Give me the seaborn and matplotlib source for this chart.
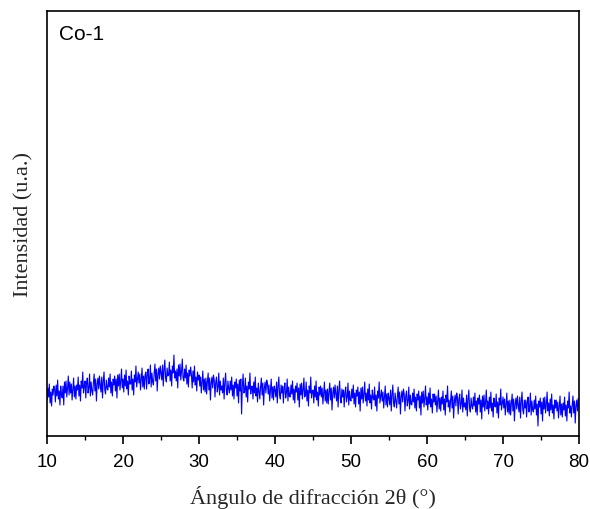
import numpy as np
import matplotlib
matplotlib.use("Agg")
import matplotlib.pyplot as plt
from matplotlib.ticker import MultipleLocator
import seaborn as sns

# scan grid, 2theta in degrees (0.1 deg step)
two_theta = np.round(np.arange(10.0, 80.0001, 0.1), 1)

# intensity (a.u.), one row per degree (10 -> 79)
intensity = [
    36, 48, 39, 52, 33, 44, 30, 47, 41, 50,
    47, 34, 51, 40, 56, 37, 45, 31, 50, 42,
    38, 50, 31, 54, 43, 55, 39, 48, 60, 41,
    54, 43, 52, 36, 47, 58, 39, 50, 37, 51,
    46, 59, 40, 51, 35, 55, 48, 64, 43, 50,
    55, 38, 53, 58, 43, 48, 62, 40, 54, 45,
    41, 53, 62, 45, 57, 35, 52, 58, 47, 60,
    51, 44, 59, 38, 55, 64, 46, 42, 56, 48,
    46, 58, 49, 62, 43, 54, 40, 57, 51, 60,
    45, 57, 38, 61, 50, 62, 46, 55, 67, 48,
    57, 44, 61, 50, 66, 47, 55, 41, 60, 52,
    52, 65, 46, 57, 41, 61, 54, 70, 49, 56,
    64, 53, 62, 46, 57, 68, 49, 60, 47, 61,
    64, 47, 62, 67, 52, 57, 71, 49, 63, 54,
    51, 63, 72, 55, 67, 45, 62, 68, 57, 70,
    63, 56, 71, 50, 67, 76, 58, 54, 68, 60,
    61, 74, 55, 66, 50, 70, 63, 81, 58, 65,
    55, 67, 48, 71, 60, 72, 56, 65, 77, 58,
    55, 67, 58, 71, 52, 63, 49, 66, 60, 69,
    61, 48, 65, 54, 70, 51, 59, 45, 64, 56,
    61, 50, 59, 43, 54, 65, 46, 57, 44, 58,
    42, 54, 63, 46, 58, 36, 53, 59, 48, 61,
    56, 39, 54, 59, 44, 49, 63, 41, 55, 46,
    50, 43, 58, 37, 54, 63, 45, 41, 55, 47,
    43, 55, 46, 59, 40, 51, 37, 54, 48, 57,
    40, 52, 33, 56, 45, 57, 22, 50, 62, 43,
    45, 58, 39, 50, 34, 54, 47, 63, 42, 49,
    50, 37, 54, 43, 59, 40, 48, 34, 53, 45,
    37, 49, 58, 41, 53, 31, 48, 54, 43, 56,
    53, 42, 51, 35, 46, 57, 38, 49, 36, 50,
    46, 39, 54, 33, 50, 59, 41, 37, 51, 43,
    50, 33, 48, 53, 38, 43, 57, 35, 49, 40,
    39, 51, 42, 55, 36, 47, 33, 50, 44, 53,
    36, 48, 29, 52, 41, 53, 37, 46, 58, 39,
    41, 54, 35, 46, 30, 50, 43, 59, 38, 45,
    46, 33, 50, 39, 55, 36, 44, 30, 49, 41,
    50, 39, 48, 32, 43, 54, 35, 46, 33, 47,
    32, 44, 53, 36, 48, 26, 43, 49, 38, 51,
    42, 35, 50, 29, 46, 55, 37, 33, 47, 39,
    46, 29, 44, 49, 34, 39, 53, 31, 45, 36,
    35, 47, 38, 51, 32, 43, 29, 46, 40, 49,
    32, 44, 25, 48, 37, 49, 33, 42, 54, 35,
    43, 30, 47, 36, 52, 33, 41, 27, 46, 38,
    36, 49, 30, 41, 25, 45, 38, 54, 33, 40,
    46, 35, 44, 28, 39, 50, 31, 42, 29, 43,
    38, 31, 46, 25, 42, 51, 33, 29, 43, 35,
    28, 40, 49, 32, 44, 22, 39, 45, 34, 47,
    42, 25, 40, 45, 30, 35, 49, 27, 41, 32,
    31, 43, 34, 47, 28, 39, 25, 42, 36, 45,
    28, 40, 21, 44, 33, 45, 29, 38, 50, 31,
    39, 26, 43, 32, 48, 29, 37, 23, 42, 34,
    42, 31, 40, 24, 35, 46, 27, 38, 25, 39,
    32, 45, 26, 37, 21, 41, 34, 50, 29, 36,
    24, 36, 45, 28, 40, 18, 35, 41, 30, 43,
    39, 22, 37, 42, 27, 32, 46, 24, 38, 29,
    33, 26, 41, 20, 37, 46, 28, 24, 38, 30,
    27, 39, 30, 43, 24, 35, 21, 38, 32, 41,
    24, 36, 17, 40, 29, 41, 25, 34, 46, 27,
    35, 22, 39, 28, 44, 25, 33, 19, 38, 30,
    29, 42, 23, 34, 18, 38, 31, 47, 26, 33,
    39, 28, 37, 21, 32, 43, 24, 35, 22, 36,
    21, 33, 42, 25, 37, 15, 32, 38, 27, 40,
    31, 24, 39, 18, 35, 44, 26, 22, 36, 28,
    36, 19, 34, 39, 24, 29, 43, 21, 35, 26,
    24, 36, 27, 40, 21, 32, 10, 35, 29, 38,
    22, 34, 15, 38, 27, 39, 23, 32, 44, 25,
    33, 20, 37, 26, 42, 23, 31, 17, 36, 28,
    36, 25, 34, 18, 29, 40, 21, 32, 19, 33,
    26, 39, 20, 31, 15, 35, 28, 44, 23, 30,
    19, 31, 40, 23, 35, 13, 30, 36, 25, 38,
    29,
]

sample = "Co-1"
xlabel = "Ángulo de difracción 2θ (°)"
ylabel = "Intensidad (u.a.)"

sns.set_style("ticks")
plt.rcParams["font.family"] = ["Liberation Sans", "DejaVu Sans"]
serif = ["Liberation Serif", "DejaVu Serif"]

fig = plt.figure(figsize=(5.9, 5.1), dpi=100)
ax = fig.add_axes([0.0797, 0.1431, 0.9017, 0.8334])

sns.lineplot(x=two_theta, y=intensity, ax=ax, color="#0000ff", lw=0.8)

ax.set_xlim(10, 80)
ax.set_ylim(0, 425)
ax.xaxis.set_major_locator(MultipleLocator(10))
ax.xaxis.set_minor_locator(MultipleLocator(5))
ax.set_yticks([])
ax.tick_params(axis="x", which="major", direction="out", length=6, width=1.2,
               color="black", labelcolor="black", labelsize=13.5, pad=6)
ax.tick_params(axis="x", which="minor", direction="out", length=3, width=1.0,
               color="black")
for s in ax.spines.values():
    s.set_visible(True)
    s.set_linewidth(1.2)
    s.set_color("black")

ax.set_xlabel(xlabel, family=serif, fontsize=16, labelpad=11)
ax.set_ylabel(ylabel, family=serif, fontsize=16, labelpad=10)
ax.text(0.022, 0.97, sample, transform=ax.transAxes, ha="left", va="top",
        fontsize=15, color="black")

fig.savefig("out.png", dpi=100)
